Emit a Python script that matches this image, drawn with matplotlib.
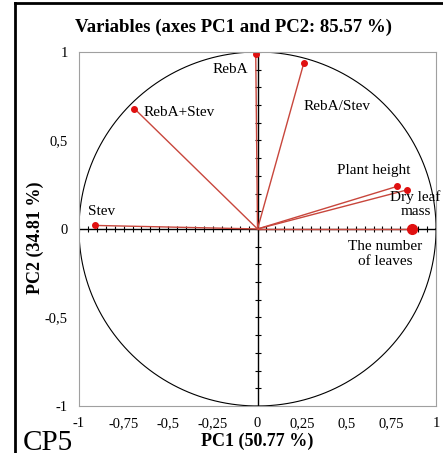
import numpy as np
import matplotlib.pyplot as plt
from matplotlib.lines import Line2D

plt.rcParams['font.family'] = ['Liberation Serif', 'DejaVu Serif']

# Data: variable loadings on PC1 / PC2
variables = ["RebA", "RebA/Stev", "RebA+Stev", "Stev", "Plant height",
             "Dry leaf\nmass", "The number\nof leaves"]
pc1 = [-0.01, 0.26, -0.69, -0.91, 0.78, 0.835, 0.865]
pc2 = [0.99, 0.94, 0.68, 0.02, 0.24, 0.22, 0.0]
marker_sizes = [4, 4, 4, 4, 4, 4, 7]

# label offsets (data units) and alignment
label_pos = [(-0.14, -0.09, 'center'), (0.0, -0.25, 'left'), (0.05, -0.02, 'left'),
             (-0.04, 0.08, 'left'), (-0.13, 0.09, 'center'), (0.05, -0.08, 'center'),
             (-0.15, -0.14, 'center')]

xticks = [-1, -0.75, -0.5, -0.25, 0, 0.25, 0.5, 0.75, 1]
yticks = [-1, -0.5, 0, 0.5, 1]
red = '#c8463c'

fig = plt.figure(figsize=(4.43, 4.53), dpi=100)
ax = fig.add_axes([0.1783, 0.1038, 0.806, 0.7815])
ax.set_xlim(-1, 1)
ax.set_ylim(-1, 1)

# unit circle
t = np.linspace(0, 2 * np.pi, 400)
ax.plot(np.cos(t), np.sin(t), color='black', lw=0.8)

# central axes with small ticks
ax.axhline(0, color='black', lw=1.0)
ax.axvline(0, color='black', lw=1.0)
ax.plot(np.arange(-1, 1.001, 0.05), np.zeros(41), '|', color='black', ms=5, mew=0.8)
ax.plot(np.zeros(21), np.arange(-1, 1.001, 0.1), '_', color='black', ms=5, mew=0.8)

for x, y, ms, name, (dx, dy, ha) in zip(pc1, pc2, marker_sizes, variables, label_pos):
    ax.plot([0, x], [0, y], color=red, lw=1.0)
    ax.plot(x, y, 'o', color='#e01010', ms=ms)
    ax.text(x + dx, y + dy, name, ha=ha, va='center', fontsize=11, linespacing=1.15)

ax.set_xticks(xticks)
ax.set_yticks(yticks)
ax.set_xticklabels([str(v).replace('.', ',') for v in xticks], fontsize=10.5)
ax.set_yticklabels([str(v).replace('.', ',') for v in yticks], fontsize=10.5)
ax.tick_params(length=0, pad=8)
for s in ax.spines.values():
    s.set_color('#a0a0a0')
    s.set_linewidth(0.8)

ax.set_xlabel("PC1 (50.77 %)", fontsize=13, fontweight='bold', labelpad=2)
fig.text(0.079, 0.475, "PC2 (34.81 %)", rotation=90, ha='center', va='center',
         fontsize=13, fontweight='bold')
fig.text(0.526, 0.94, "Variables (axes PC1 and PC2: 85.57 %)", ha='center', va='center',
         fontsize=13.5, fontweight='bold')
fig.text(0.052, 0.022, "CP5", fontsize=21, ha='left', va='center')

# frame lines at left and top of figure
fig.add_artist(Line2D([0.034, 0.034], [0, 0.994], color='black', lw=2))
fig.add_artist(Line2D([0.034, 1], [0.994, 0.994], color='black', lw=2))

fig.savefig("out.png", dpi=100)
